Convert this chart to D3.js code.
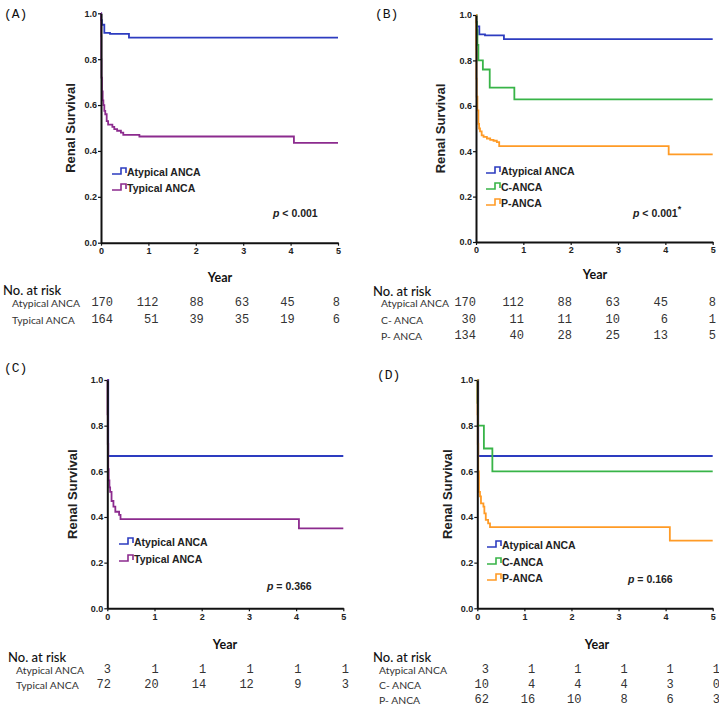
<!DOCTYPE html>
<html>
<head>
<meta charset="utf-8">
<script src="https://cdn.jsdelivr.net/npm/d3@7"></script>
<style>
body{margin:0;background:#fff;}
</style>
</head>
<body>
<svg id="chart" width="719" height="721"></svg>
<script>
// year ticks and survival ticks
var years = [0, 1, 2, 3, 4, 5];
var yTicks = [0, 0.2, 0.4, 0.6, 0.8, 1.0];

// KM curves, [year, survival]
var allAtypical = [[0,1],[0.005,0.97],[0.02,0.95],[0.07,0.915],[0.19,0.91],[0.59,0.894],[5,0.894]];
var allTypical = [[0,1],[0.003,0.9],[0.006,0.8],[0.01,0.72],[0.02,0.66],[0.035,0.62],[0.05,0.6],[0.07,0.575],[0.09,0.56],[0.12,0.53],[0.15,0.515],[0.24,0.505],[0.28,0.495],[0.34,0.488],[0.42,0.48],[0.47,0.47],[0.81,0.463],[4.07,0.435],[5,0.435]];
var allCanca = [[0,1],[0.01,0.967],[0.02,0.933],[0.03,0.868],[0.05,0.8],[0.145,0.76],[0.29,0.68],[0.81,0.628],[5,0.628]];
var allPanca = [[0,1],[0.004,0.85],[0.008,0.72],[0.014,0.64],[0.03,0.58],[0.05,0.52],[0.065,0.5],[0.085,0.487],[0.12,0.47],[0.16,0.463],[0.23,0.456],[0.3,0.45],[0.37,0.446],[0.44,0.44],[0.49,0.422],[4.07,0.386],[5,0.386]];

var subAtypical = [[0,1],[0.02,0.667],[5,0.667]];
var subTypical = [[0,1],[0.005,0.85],[0.01,0.72],[0.02,0.61],[0.03,0.56],[0.045,0.53],[0.06,0.51],[0.09,0.47],[0.13,0.445],[0.17,0.423],[0.25,0.409],[0.28,0.391],[4.06,0.35],[5,0.35]];
var subCanca = [[0,1],[0.005,0.9],[0.015,0.8],[0.14,0.7],[0.32,0.6],[5,0.6]];
var subPanca = [[0,1],[0.005,0.85],[0.01,0.72],[0.02,0.6],[0.035,0.51],[0.057,0.49],[0.078,0.46],[0.13,0.445],[0.15,0.416],[0.18,0.387],[0.23,0.372],[0.27,0.356],[4.09,0.296],[5,0.296]];

// numbers at risk
var riskAllAtypical = [170, 112, 88, 63, 45, 8];
var riskAllTypical = [164, 51, 39, 35, 19, 6];
var riskAllCanca = [30, 11, 11, 10, 6, 1];
var riskAllPanca = [134, 40, 28, 25, 13, 5];
var riskSubAtypical = [3, 1, 1, 1, 1, 1];
var riskSubTypical = [72, 20, 14, 12, 9, 3];
var riskSubCanca = [10, 4, 4, 4, 3, 0];
var riskSubPanca = [62, 16, 10, 8, 6, 3];

var blue = "#2d3cc0", purple = "#8c2b8e", green = "#38b448", orange = "#ff9b26";

var panels = [
  {tag:"(A)", tagX:4, tagY:14, xr:[101,338], yr:[242.7,13.3], ylabX:70,
   series:[{name:"Atypical ANCA", color:blue, data:allAtypical},{name:"Typical ANCA", color:purple, data:allTypical}],
   legX:112, legY:[172,188], p:"< 0.001", star:false, pX:273, pY:213,
   risk:[{name:"Atypical ANCA", n:riskAllAtypical},{name:"Typical ANCA", n:riskAllTypical}],
   cols:[113,340], rowX:12, rowY:[303,320], noX:3, noY:289.5, yearX:220, yearY:277},
  {tag:"(B)", tagX:375, tagY:14, xr:[476,712.7], yr:[242,15], ylabX:440,
   series:[{name:"Atypical ANCA", color:blue, data:allAtypical},{name:"C-ANCA", color:green, data:allCanca},{name:"P-ANCA", color:orange, data:allPanca}],
   legX:486, legY:[171,187,203], p:"< 0.001", star:true, pX:633, pY:213,
   risk:[{name:"Atypical ANCA", n:riskAllAtypical},{name:"C- ANCA", n:riskAllCanca},{name:"P- ANCA", n:riskAllPanca}],
   cols:[476,716], rowX:381, rowY:[303,319.5,336], noX:373, noY:290.5, yearX:595, yearY:274},
  {tag:"(C)", tagX:4, tagY:368, xr:[107.3,343.3], yr:[608.3,380], ylabX:72,
   series:[{name:"Atypical ANCA", color:blue, data:subAtypical},{name:"Typical ANCA", color:purple, data:subTypical}],
   legX:119, legY:[542,559], p:"= 0.366", star:false, pX:267, pY:586,
   risk:[{name:"Atypical ANCA", n:riskSubAtypical},{name:"Typical ANCA", n:riskSubTypical}],
   cols:[111,349], rowX:16, rowY:[669.5,684.5], noX:8, noY:656.5, yearX:225, yearY:644},
  {tag:"(D)", tagX:377, tagY:375, xr:[477.3,712.7], yr:[608.3,380], ylabX:447,
   series:[{name:"Atypical ANCA", color:blue, data:subAtypical},{name:"C-ANCA", color:green, data:subCanca},{name:"P-ANCA", color:orange, data:subPanca}],
   legX:487, legY:[545,562,578], p:"= 0.166", star:false, pX:628, pY:579,
   risk:[{name:"Atypical ANCA", n:riskSubAtypical},{name:"C- ANCA", n:riskSubCanca},{name:"P- ANCA", n:riskSubPanca}],
   cols:[489,720], rowX:379, rowY:[669.5,684.5,700], noX:373, noY:656.5, yearX:597, yearY:644}
];

var svg = d3.select("#chart");
svg.append("rect").attr("width", 719).attr("height", 721).attr("fill", "#fff");

panels.forEach(function(pn) {
  var x = d3.scaleLinear().domain([0, 5]).range(pn.xr);
  var y = d3.scaleLinear().domain([0, 1]).range(pn.yr);
  var g = svg.append("g");

  g.append("text")
    .attr("x", pn.tagX).attr("y", pn.tagY)
    .attr("dominant-baseline", "central")
    .style("font-family", "Liberation Mono, monospace").style("font-size", "13px")
    .attr("fill", "#111")
    .text(pn.tag);

  var line = d3.line()
    .x(function(d) { return x(d[0]); })
    .y(function(d) { return y(d[1]); })
    .curve(d3.curveStepAfter);

  pn.series.forEach(function(s) {
    g.append("path")
      .datum(s.data)
      .attr("fill", "none")
      .attr("stroke", s.color)
      .attr("stroke-width", 1.8)
      .attr("d", line);
  });

  var xAxis = g.append("g")
    .attr("transform", "translate(0," + pn.yr[0] + ")")
    .call(d3.axisBottom(x).tickValues(years).tickSize(3).tickSizeOuter(0).tickPadding(2).tickFormat(d3.format("d")));
  var yAxis = g.append("g")
    .attr("transform", "translate(" + pn.xr[0] + ",0)")
    .call(d3.axisLeft(y).tickValues(yTicks).tickSize(3).tickSizeOuter(0).tickPadding(1).tickFormat(d3.format(".1f")));
  [xAxis, yAxis].forEach(function(a) {
    a.select(".domain").attr("stroke", "#111").attr("stroke-width", 2);
    a.selectAll(".tick line").attr("stroke", "#111").attr("stroke-width", 1.2);
    a.selectAll("text")
      .style("font-family", "Liberation Sans, Arial, sans-serif")
      .style("font-size", "9px").style("font-weight", "bold").attr("fill", "#222");
  });

  var midY = (pn.yr[0] + pn.yr[1]) / 2;
  g.append("text")
    .attr("transform", "translate(" + pn.ylabX + "," + midY + ") rotate(-90)")
    .attr("text-anchor", "middle").attr("dominant-baseline", "central")
    .style("font-family", "Liberation Sans, Arial, sans-serif")
    .style("font-size", "13px").style("font-weight", "bold").attr("fill", "#222")
    .text("Renal Survival");

  // legend
  pn.series.forEach(function(s, i) {
    var ly = pn.legY[i], lx = pn.legX;
    g.append("path")
      .attr("d", "M" + lx + "," + (ly + 2) + "H" + (lx + 9) + "V" + (ly - 4) + "H" + (lx + 14) + "V" + (ly + 1))
      .attr("fill", "none").attr("stroke", s.color).attr("stroke-width", 1.6);
    g.append("text")
      .attr("x", lx + 15).attr("y", ly)
      .attr("dominant-baseline", "central")
      .style("font-family", "Liberation Sans, Arial, sans-serif")
      .style("font-size", "10.5px").style("font-weight", "bold").attr("fill", "#222")
      .text(s.name);
  });

  var pt = g.append("text")
    .attr("x", pn.pX).attr("y", pn.pY)
    .attr("dominant-baseline", "central")
    .style("font-family", "Liberation Sans, Arial, sans-serif")
    .style("font-size", "10.5px").style("font-weight", "bold").attr("fill", "#222");
  pt.append("tspan").style("font-style", "italic").text("p");
  pt.append("tspan").text(" " + pn.p);
  if (pn.star) pt.append("tspan").attr("dy", -4).style("font-size", "9px").text("*");

  // risk table
  g.append("text")
    .attr("x", pn.yearX).attr("y", pn.yearY)
    .attr("text-anchor", "middle").attr("dominant-baseline", "central")
    .style("font-family", "Lato, sans-serif").style("font-size", "12.5px").style("font-weight", "bold")
    .attr("fill", "#111")
    .text("Year");
  g.append("text")
    .attr("x", pn.noX).attr("y", pn.noY)
    .attr("dominant-baseline", "central")
    .style("font-family", "Lato, sans-serif").style("font-size", "13px").style("font-weight", "500")
    .attr("fill", "#111")
    .text("No. at risk");

  var col = d3.scaleLinear().domain([0, 5]).range(pn.cols);
  pn.risk.forEach(function(r, i) {
    var ry = pn.rowY[i];
    g.append("text")
      .attr("x", pn.rowX).attr("y", ry)
      .attr("dominant-baseline", "central")
      .style("font-family", "Lato, sans-serif").style("font-size", "10.4px")
      .attr("fill", "#333")
      .text(r.name);
    g.selectAll(null)
      .data(r.n)
      .enter().append("text")
      .attr("x", function(d, j) { return col(years[j]); })
      .attr("y", ry)
      .attr("text-anchor", "end").attr("dominant-baseline", "central")
      .style("font-family", "Liberation Mono, monospace").style("font-size", "12px")
      .attr("fill", "#333")
      .text(function(d) { return d; });
  });
});
</script>
</body>
</html>
